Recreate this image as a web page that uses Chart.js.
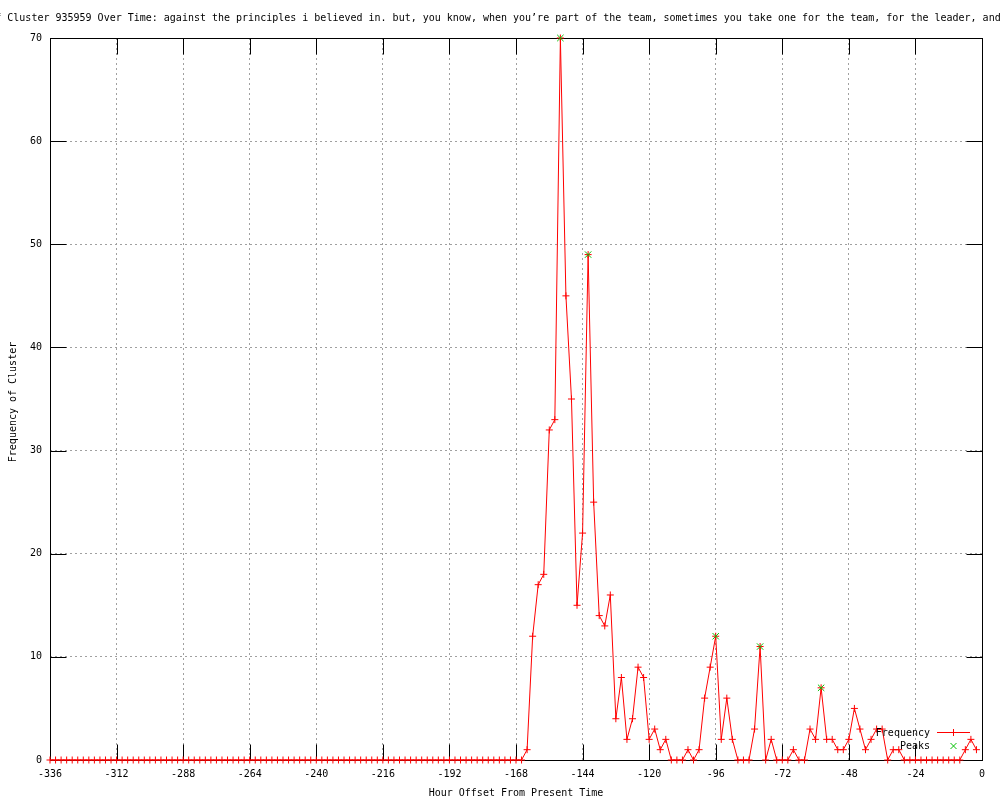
<!DOCTYPE html>
<html>
<head>
<meta charset="utf-8">
<script src="https://cdn.jsdelivr.net/npm/chart.js@4.4.1/dist/chart.umd.min.js"></script>
<style>
  html, body { margin: 0; padding: 0; background: #ffffff; }
  #wrap { width: 1000px; height: 800px; position: relative; }
</style>
</head>
<body>
<div id="wrap"><canvas id="c" width="1000" height="800"></canvas></div>
<script>
// ---------- data ----------
const titleText = "Frequency of Cluster 935959 Over Time: against the principles i believed in. but, you know, when you\u2019re part of the team, sometimes you take one for the team, for the leader, and";
const xAxisTitle = "Hour Offset From Present Time";
const yAxisTitle = "Frequency of Cluster";
const legendLabels = ["Frequency", "Peaks"];

const hours = [
  -336,-334,-332,-330,-328,-326,-324,-322,-320,-318,-316,-314,-312,-310,-308,-306,-304,-302,-300,-298,
  -296,-294,-292,-290,-288,-286,-284,-282,-280,-278,-276,-274,-272,-270,-268,-266,-264,-262,-260,-258,
  -256,-254,-252,-250,-248,-246,-244,-242,-240,-238,-236,-234,-232,-230,-228,-226,-224,-222,-220,-218,
  -216,-214,-212,-210,-208,-206,-204,-202,-200,-198,-196,-194,-192,-190,-188,-186,-184,-182,-180,-178,
  -176,-174,-172,-170,-168,-166,-164,-162,-160,-158,-156,-154,-152,-150,-148,-146,-144,-142,-140,-138,
  -136,-134,-132,-130,-128,-126,-124,-122,-120,-118,-116,-114,-112,-110,-108,-106,-104,-102,-100,-98,
  -96,-94,-92,-90,-88,-86,-84,-82,-80,-78,-76,-74,-72,-70,-68,-66,-64,-62,-60,-58,
  -56,-54,-52,-50,-48,-46,-44,-42,-40,-38,-36,-34,-32,-30,-28,-26,-24,-22,-20,-18,
  -16,-14,-12,-10,-8,-6,-4,-2
];
const frequency = [
  0,0,0,0,0,0,0,0,0,0,0,0,0,0,0,0,0,0,0,0,
  0,0,0,0,0,0,0,0,0,0,0,0,0,0,0,0,0,0,0,0,
  0,0,0,0,0,0,0,0,0,0,0,0,0,0,0,0,0,0,0,0,
  0,0,0,0,0,0,0,0,0,0,0,0,0,0,0,0,0,0,0,0,
  0,0,0,0,0,0,1,12,17,18,32,33,70,45,35,15,22,49,25,14,
  13,16,4,8,2,4,9,8,2,3,1,2,0,0,0,1,0,1,6,9,
  12,2,6,2,0,0,0,3,11,0,2,0,0,0,1,0,0,3,2,7,
  2,2,1,1,2,5,3,1,2,3,3,0,1,1,0,0,0,0,0,0,
  0,0,0,0,0,1,2,1
];
const peakHours = [-152, -142, -96, -80, -58];
const peakValues = [70, 49, 12, 11, 7];

const xTicks = { min: -336, max: 0, step: 24 };
const yTicks = { min: 0, max: 70, step: 10 };

// ---------- styling ----------
const FONT = "DejaVu Sans Mono";
const RED = "#ff0000";
const GREEN = "#00c000";

const freqPoints = hours.map((h, i) => ({ x: h, y: frequency[i] }));
const peakPoints = peakHours.map((h, i) => ({ x: h, y: peakValues[i] }));

const decor = {
  id: "decor",
  beforeDatasetsDraw(chart) {
    const { ctx, chartArea: a, scales } = chart;
    ctx.save();
    ctx.strokeStyle = "#000";
    ctx.lineWidth = 1;
    ctx.setLineDash([]);
    const L = Math.round(a.left) + 0.5, R = Math.round(a.right) + 0.5;
    const T = Math.round(a.top) + 0.5, B = Math.round(a.bottom) + 0.5;
    ctx.strokeRect(L, T, R - L, B - T);
    const tl = 16;
    ctx.beginPath();
    scales.x.ticks.forEach(t => {
      const px = Math.round(scales.x.getPixelForValue(t.value)) + 0.5;
      ctx.moveTo(px, B); ctx.lineTo(px, B - tl);
      ctx.moveTo(px, T); ctx.lineTo(px, T + tl);
    });
    scales.y.ticks.forEach(t => {
      const py = Math.round(scales.y.getPixelForValue(t.value)) + 0.5;
      ctx.moveTo(L, py); ctx.lineTo(L + tl, py);
      ctx.moveTo(R, py); ctx.lineTo(R - tl, py);
    });
    ctx.stroke();
    ctx.restore();
  },
  afterDraw(chart) {
    const { ctx, chartArea: a } = chart;
    ctx.save();
    ctx.fillStyle = "#000";
    ctx.font = "10px '" + FONT + "'";
    ctx.textBaseline = "middle";
    // title (overflows canvas like the original)
    ctx.textAlign = "left";
    const cw = ctx.measureText("M").width;
    ctx.fillText(titleText, 7.3 - 13 * cw, 18);
    // x axis title
    ctx.textAlign = "center";
    ctx.fillText(xAxisTitle, (a.left + a.right) / 2, 793);
    // y axis title
    ctx.save();
    ctx.translate(13, (a.top + a.bottom) / 2 + 3);
    ctx.rotate(-Math.PI / 2);
    ctx.fillText(yAxisTitle, 0, 0);
    ctx.restore();
    // legend
    ctx.textAlign = "right";
    ctx.fillText(legendLabels[0], 930, 733);
    ctx.fillText(legendLabels[1], 930, 746);
    ctx.strokeStyle = RED;
    ctx.lineWidth = 1;
    ctx.beginPath();
    ctx.moveTo(937, 732.5); ctx.lineTo(970, 732.5);
    ctx.moveTo(953.5, 729); ctx.lineTo(953.5, 736);
    ctx.stroke();
    ctx.strokeStyle = GREEN;
    ctx.beginPath();
    ctx.moveTo(950.5, 743); ctx.lineTo(956.5, 749);
    ctx.moveTo(956.5, 743); ctx.lineTo(950.5, 749);
    ctx.stroke();
    ctx.restore();
  }
};

new Chart(document.getElementById("c"), {
  type: "scatter",
  data: {
    datasets: [
      {
        label: legendLabels[1],
        data: peakPoints,
        showLine: false,
        pointStyle: "crossRot",
        pointRadius: 4.5,
        pointBorderWidth: 1,
        borderColor: GREEN,
        backgroundColor: GREEN,
        clip: false,
        order: 0
      },
      {
        label: legendLabels[0],
        data: freqPoints,
        showLine: true,
        borderColor: RED,
        backgroundColor: RED,
        borderWidth: 1,
        tension: 0,
        pointStyle: "cross",
        pointRadius: 3.5,
        pointBorderWidth: 1,
        clip: false,
        order: 1
      }
    ]
  },
  options: {
    responsive: false,
    animation: false,
    events: [],
    layout: { padding: { top: 38, right: 18, left: 0, bottom: 0 } },
    plugins: {
      legend: { display: false },
      title: { display: false },
      tooltip: { enabled: false }
    },
    scales: {
      x: {
        type: "linear",
        min: xTicks.min,
        max: xTicks.max,
        afterFit(s) { s.height = 40; },
        ticks: {
          stepSize: xTicks.step,
          color: "#000",
          font: { family: FONT, size: 10 },
          padding: 8,
          maxRotation: 0,
          autoSkip: false,
          callback: v => String(v)
        },
        grid: { color: "#a0a0a0", lineWidth: 1, drawTicks: false },
        border: { display: false, dash: [2, 3] }
      },
      y: {
        type: "linear",
        min: yTicks.min,
        max: yTicks.max,
        afterFit(s) { s.width = 50; },
        ticks: {
          stepSize: yTicks.step,
          color: "#000",
          font: { family: FONT, size: 10 },
          padding: 8,
          callback: v => String(v)
        },
        grid: { color: "#a0a0a0", lineWidth: 1, drawTicks: false },
        border: { display: false, dash: [2, 3] }
      }
    }
  },
  plugins: [decor]
});
</script>
</body>
</html>
